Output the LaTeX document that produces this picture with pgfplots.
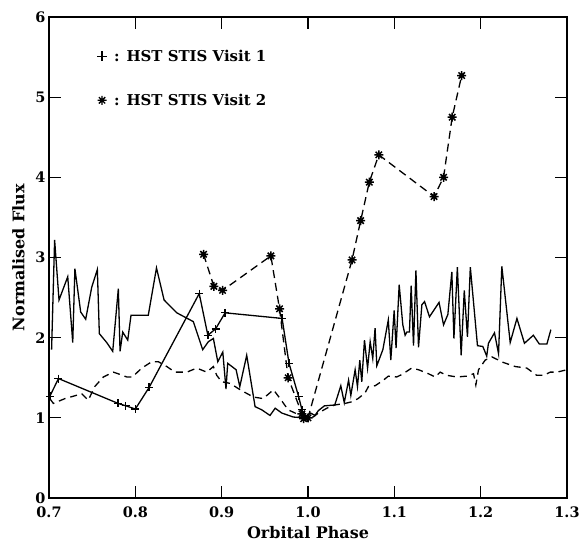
\documentclass[border=0pt]{standalone}
\usepackage{fontspec}
\setmainfont{DejaVu Serif}
\usepackage{pgfplots}
\pgfplotsset{compat=1.18}
\pgfdeclareplotmark{ast8}{%
 \pgfpathmoveto{\pgfqpoint{-\pgfplotmarksize}{0pt}}\pgfpathlineto{\pgfqpoint{\pgfplotmarksize}{0pt}}%
 \pgfpathmoveto{\pgfqpoint{0pt}{-\pgfplotmarksize}}\pgfpathlineto{\pgfqpoint{0pt}{\pgfplotmarksize}}%
 \pgfpathmoveto{\pgfqpoint{-0.707\pgfplotmarksize}{-0.707\pgfplotmarksize}}\pgfpathlineto{\pgfqpoint{0.707\pgfplotmarksize}{0.707\pgfplotmarksize}}%
 \pgfpathmoveto{\pgfqpoint{-0.707\pgfplotmarksize}{0.707\pgfplotmarksize}}\pgfpathlineto{\pgfqpoint{0.707\pgfplotmarksize}{-0.707\pgfplotmarksize}}%
 \pgfusepathqstroke}

\pgfplotstableread{
x y
0.7030 1.85
0.7065 3.22
0.7116 2.47
0.7217 2.76
0.7275 1.94
0.7300 2.86
0.7367 2.32
0.7425 2.23
0.7495 2.63
0.7560 2.85
0.7583 2.05
0.7668 1.94
0.7738 1.83
0.7803 2.61
0.7823 1.83
0.7854 2.07
0.7912 1.97
0.7950 2.28
0.8150 2.28
0.8245 2.87
0.8333 2.47
0.8480 2.31
0.8672 2.20
0.8780 1.85
0.8846 1.95
0.8904 1.99
0.8955 1.70
0.9013 1.82
0.9050 1.36
0.9070 1.68
0.9167 1.60
0.9210 1.39
0.9290 1.78
0.9387 1.14
0.9464 1.10
0.9560 1.03
0.9620 1.12
0.9696 1.06
0.9830 1.01
0.9950 1.00
1.0030 1.06
1.0080 1.03
1.0120 1.09
1.0190 1.15
1.0310 1.16
1.0380 1.40
1.0420 1.19
1.0470 1.47
1.0496 1.28
1.0546 1.60
1.0573 1.39
1.0600 1.72
1.0623 1.45
1.0654 1.97
1.0690 1.62
1.0720 1.95
1.0750 1.74
1.0777 2.12
1.0797 1.65
1.0867 1.85
1.0930 2.22
1.0959 1.72
1.0998 2.34
1.1020 1.87
1.1056 2.66
1.1098 2.16
1.1125 2.03
1.1145 2.07
1.1175 2.07
1.1195 2.65
1.1222 1.90
1.1250 2.84
1.1280 1.88
1.1319 2.41
1.1350 2.45
1.1407 2.26
1.1518 2.44
1.1570 2.16
1.1620 2.29
1.1666 2.82
1.1690 1.99
1.1730 2.88
1.1774 1.78
1.1810 2.59
1.1847 2.01
1.1880 2.88
1.1963 1.90
1.2025 1.89
1.2070 1.77
1.2090 1.93
1.2160 2.06
1.2207 1.80
1.2245 2.89
1.2342 1.94
1.2420 2.24
1.2507 1.93
1.2610 2.03
1.2680 1.92
1.2767 1.92
1.2813 2.10
}\noisy

\pgfplotstableread{
x y
0.7010 1.24
0.7050 1.18
0.7185 1.24
0.7380 1.30
0.7455 1.22
0.7530 1.39
0.7630 1.51
0.7745 1.57
0.7800 1.55
0.7900 1.51
0.7966 1.51
0.8074 1.62
0.8190 1.70
0.8267 1.70
0.8364 1.64
0.8460 1.57
0.8596 1.57
0.8711 1.62
0.8827 1.57
0.8904 1.64
0.8943 1.53
0.9000 1.45
0.9097 1.43
0.9230 1.34
0.9367 1.26
0.9480 1.24
0.9600 1.35
0.9677 1.24
0.9770 1.10
0.9850 1.06
0.9966 1.01
1.0060 1.01
1.0120 1.06
1.0218 1.12
1.0310 1.16
1.0430 1.18
1.0507 1.20
1.0580 1.24
1.0660 1.31
1.0700 1.39
1.0777 1.40
1.0874 1.47
1.0930 1.52
1.1028 1.51
1.1086 1.54
1.1200 1.62
1.1280 1.60
1.1395 1.55
1.1473 1.51
1.1530 1.57
1.1608 1.53
1.1724 1.51
1.1840 1.52
1.1917 1.55
1.1944 1.41
1.1975 1.60
1.2052 1.72
1.2130 1.76
1.2264 1.69
1.2400 1.64
1.2535 1.62
1.2650 1.53
1.2728 1.53
1.2806 1.57
1.2883 1.57
1.3000 1.60
}\smooth

\pgfplotstableread{
x y
0.701 1.27
0.711 1.49
0.780 1.18
0.789 1.15
0.800 1.11
0.816 1.38
0.874 2.55
0.884 2.03
0.893 2.11
0.904 2.31
0.970 2.24
0.978 1.68
0.989 1.27
0.993 1.10
0.996 1.03
1.000 1.00
}\visitone

\pgfplotstableread{
x y
0.879 3.04
0.891 2.64
0.901 2.59
0.957 3.02
0.967 2.36
0.977 1.50
0.993 1.05
0.995 0.99
1.000 1.00
1.051 2.97
1.061 3.46
1.071 3.94
1.082 4.28
1.146 3.76
1.157 4.00
1.167 4.75
1.178 5.27
}\visittwo

\begin{document}
\begin{tikzpicture}
\begin{axis}[
  scale only axis, width=518bp, height=481bp,
  xmin=0.7, xmax=1.3, ymin=0, ymax=6,
  xtick={0.7,0.8,0.9,1.0,1.1,1.2,1.3},
  xticklabels={0.7,0.8,0.9,1.0,1.1,1.2,1.3},
  ytick={0,1,2,3,4,5,6},
  tick align=inside, major tick length=12bp, minor tick num=0,
  axis line style={line width=1.6bp},
  tick style={line width=1.3bp, black},
  /pgf/number format/assume math mode=true,
  tick label style={font=\bfseries\fontsize{14.5}{16}\selectfont},
  xticklabel style={yshift=-5bp},
  label style={font=\bfseries\fontsize{16}{18}\selectfont},
  xlabel={Orbital Phase}, ylabel={Normalised Flux},
  xlabel style={at={(axis description cs:0.5,0)}, anchor=north, yshift=-25bp},
  ylabel style={yshift=4bp},
  legend cell align=left,
  legend style={draw=none, fill=none, at={(axis cs:0.752,5.64)}, anchor=north west,
    font=\bfseries\fontsize{15}{17}\selectfont, row sep=27bp, column sep=5bp},
]
\addlegendimage{only marks, mark=+, mark size=5bp, line width=1.2bp, black}
\addlegendentry{:\hspace{7bp}HST STIS Visit 1}
\addlegendimage{only marks, mark=ast8, mark size=4.5bp, line width=1.3bp, black}
\addlegendentry{:\hspace{7bp}HST STIS Visit 2}

\addplot[forget plot, black, line width=1.3bp, no marks] table[x=x,y=y] {\noisy};
\addplot[forget plot, black, line width=1.3bp, no marks, dash pattern=on 7bp off 5bp] table[x=x,y=y] {\smooth};
\addplot[forget plot, black, line width=1.3bp, mark=+, mark size=4bp] table[x=x,y=y] {\visitone};
\addplot[forget plot, black, line width=1.3bp, dash pattern=on 8bp off 5bp, mark=ast8, mark size=4.5bp, mark options={solid, line width=1.5bp}] table[x=x,y=y] {\visittwo};
\end{axis}
\pgfresetboundingbox
\path[use as bounding box] ([xshift=-49bp,yshift=-45bp]current axis.south west) rectangle ([xshift=19bp,yshift=17bp]current axis.north east);
\end{tikzpicture}
\end{document}
